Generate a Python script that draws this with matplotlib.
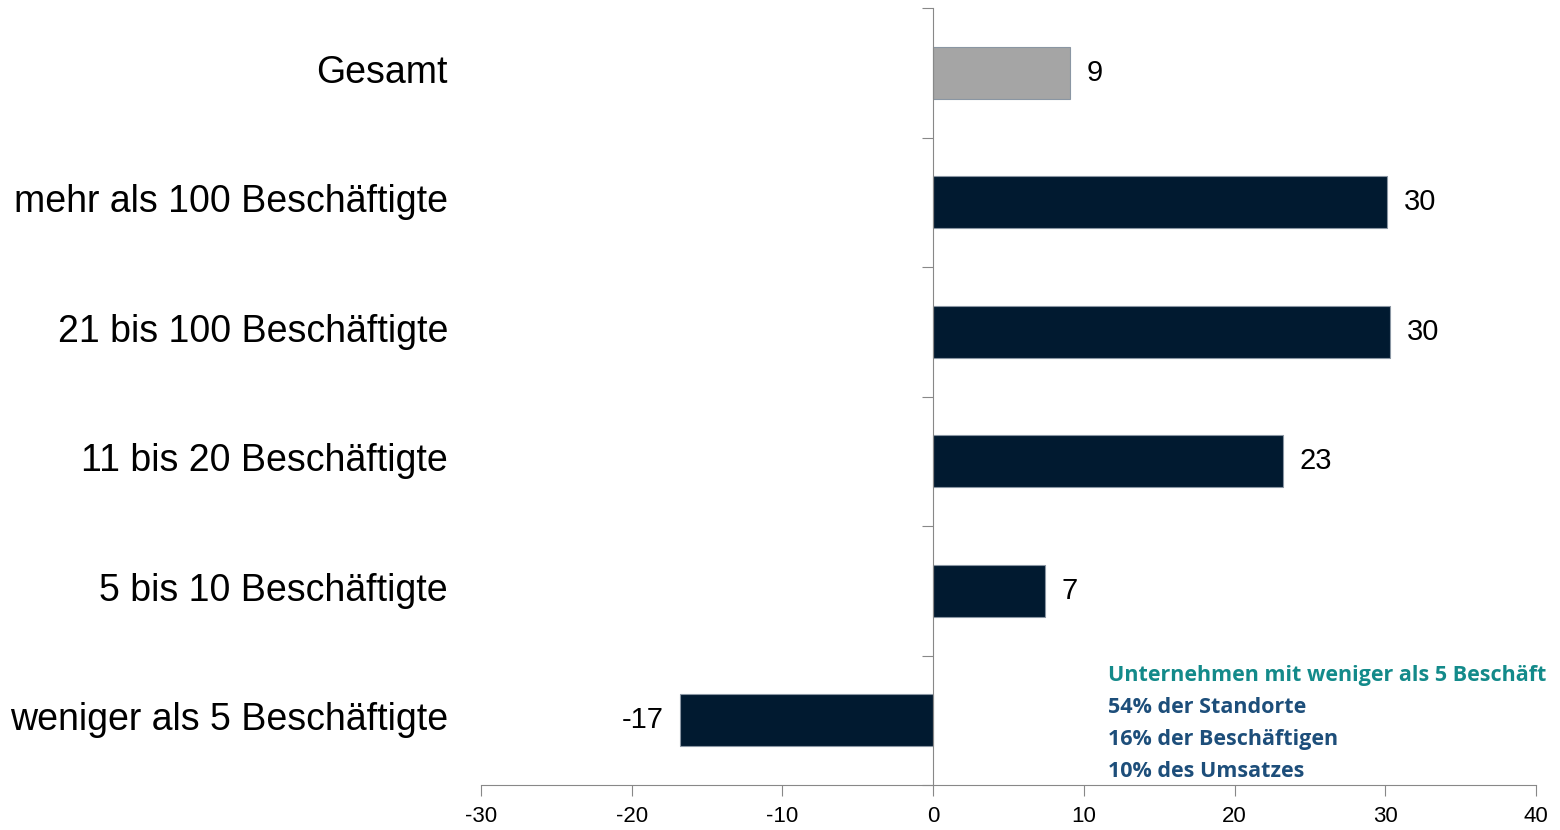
import numpy as np
import matplotlib.pyplot as plt

plt.rcParams['font.family'] = ['Liberation Sans', 'DejaVu Sans']
plt.rcParams['axes.unicode_minus'] = False

categories = ["weniger als 5 Beschäftigte", "5 bis 10 Beschäftigte", "11 bis 20 Beschäftigte",
              "21 bis 100 Beschäftigte", "mehr als 100 Beschäftigte", "Gesamt"]
values = [-16.8, 7.4, 23.2, 30.3, 30.1, 9.1]
colors = ["#011a30"] * 5 + ["#a5a5a5"]
note_lines = ["Unternehmen mit weniger als 5 Beschäft", "54% der Standorte",
              "16% der Beschäftigen", "10% des Umsatzes"]
note_colors = ["#138a8a", "#1d4e7a", "#1d4e7a", "#1d4e7a"]

fig = plt.figure(figsize=(15.6, 8.3), dpi=100)
ax = fig.add_axes([481/1560, 1-785/830, 1055/1560, 777/830])

y = np.arange(len(categories))
ax.barh(y, values, height=0.4, color=colors, edgecolor="#8a96a3", linewidth=0.8, zorder=2)

ax.set_xlim(-30, 40)
ax.set_ylim(-0.5, len(categories)-0.5)
ax.set_xticks(np.arange(-30, 41, 10))
ax.tick_params(axis='x', labelsize=16, length=8, color="#888888", direction='out', pad=7)
ax.set_yticks(np.arange(-0.5, len(categories), 1.0))
ax.set_yticklabels([])
ax.tick_params(axis='y', length=8, color="#888888", direction='out')

ax.spines['right'].set_visible(False)
ax.spines['top'].set_visible(False)
ax.spines['left'].set_position(('data', 0))
ax.spines['left'].set_color("#888888")
ax.spines['bottom'].set_color("#888888")
ax.spines['left'].set_zorder(3)

# Kategorienamen links
for yi, name in zip(y, categories):
    ax.text(-33/1055, yi, name, transform=ax.get_yaxis_transform(), ha='right', va='center', fontsize=27)

# Werte
for yi, v in zip(y, values):
    if v >= 0:
        ax.annotate(f"{v:.0f}", xy=(v, yi), xytext=(12, 0), textcoords='offset points',
                    ha='left', va='center', fontsize=21)
    else:
        ax.annotate(f"{v:.0f}", xy=(v, yi), xytext=(-12, 0), textcoords='offset points',
                    ha='right', va='center', fontsize=21)

# Hinweis unten rechts
for i, (line, c) in enumerate(zip(note_lines, note_colors)):
    fig.text(1108/1560, 1-(675+32*i)/830, line, color=c, fontsize=15.5, fontweight='bold',
             family=['Open Sans', 'DejaVu Sans'], ha='left', va='center')

fig.savefig("out.png", dpi=100)
